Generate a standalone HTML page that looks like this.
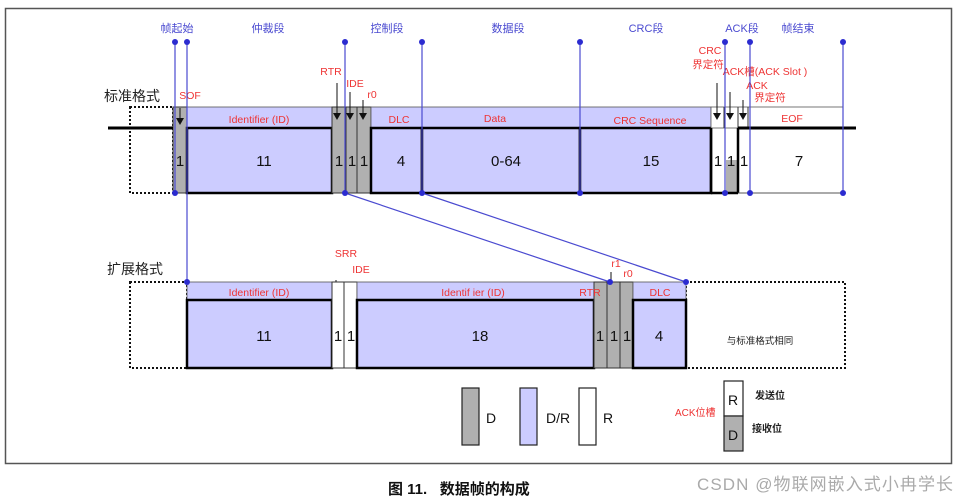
<!DOCTYPE html>
<html><head><meta charset="utf-8"><style>
html,body{margin:0;padding:0;background:#fff}
svg{display:block}
text{font-family:"Liberation Sans","Noto Sans CJK SC",sans-serif}
</style></head><body>
<svg width="962" height="501" viewBox="0 0 962 501" xmlns="http://www.w3.org/2000/svg">
<rect x="5.5" y="8.5" width="946" height="455" fill="none" stroke="#555" stroke-width="1.5"/>
<g fill="#4a4ad0" font-size="11" text-anchor="middle">
<text x="177" y="32">帧起始</text><text x="268" y="32">仲裁段</text><text x="387" y="32">控制段</text>
<text x="508" y="32">数据段</text><text x="646" y="32">CRC段</text><text x="742" y="32">ACK段</text><text x="798" y="32">帧结束</text>
</g>
<text x="104" y="101" font-size="14" fill="#222">标准格式</text>
<rect x="130" y="107" width="43" height="86" fill="none" stroke="#111" stroke-width="2" stroke-dasharray="2,2"/>
<rect x="173" y="107" width="14" height="86" fill="#b0b0b0" stroke="#333"/>
<rect x="187" y="107" width="145" height="21" fill="#ccccff" stroke="#555" stroke-width="0.8"/>
<rect x="187" y="128" width="145" height="65" fill="#ccccff" stroke="#000" stroke-width="2.5"/>
<rect x="332" y="107" width="39" height="86" fill="#b0b0b0" stroke="#333"/>
<line x1="346" y1="107" x2="346" y2="193" stroke="#333"/><line x1="357" y1="107" x2="357" y2="193" stroke="#333"/>
<rect x="371" y="107" width="209" height="21" fill="#ccccff" stroke="#555" stroke-width="0.8"/>
<rect x="371" y="128" width="51" height="65" fill="#ccccff" stroke="#000" stroke-width="2.5"/>
<rect x="422" y="128" width="158" height="65" fill="#ccccff" stroke="#000" stroke-width="2.5"/>
<rect x="580" y="107" width="131" height="21" fill="#ccccff" stroke="#555" stroke-width="0.8"/>
<rect x="580" y="128" width="131" height="65" fill="#ccccff" stroke="#000" stroke-width="2.5"/>
<rect x="711" y="107" width="132" height="21" fill="#fff" stroke="#555" stroke-width="0.8"/>
<line x1="724" y1="107" x2="724" y2="128" stroke="#333"/><line x1="738" y1="107" x2="738" y2="128" stroke="#333"/><line x1="748" y1="107" x2="748" y2="128" stroke="#333"/>
<rect x="726" y="160" width="12" height="33" fill="#b0b0b0"/>
<line x1="711" y1="128" x2="711" y2="193" stroke="#000" stroke-width="2.5"/>
<line x1="738" y1="128" x2="738" y2="193" stroke="#000" stroke-width="2.5"/>
<line x1="711" y1="193" x2="738" y2="193" stroke="#000" stroke-width="2.5"/>
<line x1="738" y1="193" x2="843" y2="193" stroke="#555"/>
<line x1="108" y1="128" x2="173" y2="128" stroke="#000" stroke-width="3"/>
<line x1="738" y1="128" x2="856" y2="128" stroke="#000" stroke-width="3"/>
<g font-size="10.5" fill="#e33" text-anchor="middle">
<text x="190" y="99">SOF</text><text x="259" y="123">Identifier (ID)</text><text x="331" y="75">RTR</text>
<text x="355" y="87">IDE</text><text x="372" y="98">r0</text><text x="399" y="123">DLC</text><text x="495" y="122">Data</text>
<text x="650" y="124">CRC Sequence</text><text x="792" y="122">EOF</text>
<text x="710" y="54">CRC</text><text x="708" y="68">界定符</text>
<text x="765" y="75">ACK槽(ACK Slot )</text><text x="757" y="89">ACK</text><text x="770" y="101">界定符</text>
</g>
<g font-size="15" fill="#111" text-anchor="middle">
<text x="180" y="166">1</text><text x="264" y="166">11</text><text x="339" y="166">1</text><text x="352" y="166">1</text><text x="364" y="166">1</text>
<text x="401" y="166">4</text><text x="506" y="166">0-64</text><text x="651" y="166">15</text>
<text x="718" y="166">1</text><text x="731" y="166">1</text><text x="744" y="166">1</text><text x="799" y="166">7</text>
</g>
<g stroke="#111" stroke-width="1">
<line x1="180" y1="108" x2="180" y2="118"/><line x1="337" y1="83" x2="337" y2="113"/><line x1="350" y1="92" x2="350" y2="113"/><line x1="363" y1="100" x2="363" y2="113"/>
<line x1="717" y1="83" x2="717" y2="113"/><line x1="730" y1="92" x2="730" y2="113"/><line x1="743" y1="100" x2="743" y2="113"/>
<line x1="336" y1="280" x2="336" y2="293"/><line x1="349" y1="288" x2="349" y2="293"/>
<line x1="611" y1="272" x2="611" y2="293"/><line x1="623" y1="282" x2="623" y2="293"/>
</g>
<g fill="#111">
<polygon points="176,118 184,118 180,125"/><polygon points="333,113 341,113 337,120"/><polygon points="346,113 354,113 350,120"/><polygon points="359,113 367,113 363,120"/>
<polygon points="713,113 721,113 717,120"/><polygon points="726,113 734,113 730,120"/><polygon points="739,113 747,113 743,120"/>
<polygon points="332,293 340,293 336,300"/><polygon points="345,293 353,293 349,300"/>
<polygon points="607,293 615,293 611,300"/><polygon points="619,293 627,293 623,300"/>
</g>
<text x="107" y="274" font-size="14" fill="#222">扩展格式</text>
<rect x="130" y="282" width="57" height="86" fill="none" stroke="#111" stroke-width="2" stroke-dasharray="2,2"/>
<rect x="686" y="282" width="159" height="86" fill="none" stroke="#111" stroke-width="2" stroke-dasharray="2,2"/>
<rect x="187" y="282" width="145" height="18" fill="#ccccff" stroke="#555" stroke-width="0.8"/>
<rect x="187" y="300" width="145" height="68" fill="#ccccff" stroke="#000" stroke-width="2.5"/>
<rect x="332" y="282" width="25" height="86" fill="#fff" stroke="#333"/>
<line x1="344" y1="282" x2="344" y2="368" stroke="#333"/>
<rect x="357" y="282" width="237" height="18" fill="#ccccff" stroke="#555" stroke-width="0.8"/>
<rect x="357" y="300" width="237" height="68" fill="#ccccff" stroke="#000" stroke-width="2.5"/>
<rect x="594" y="282" width="39" height="86" fill="#b0b0b0" stroke="#333"/>
<line x1="607" y1="282" x2="607" y2="368" stroke="#333"/><line x1="620" y1="282" x2="620" y2="368" stroke="#333"/>
<rect x="633" y="282" width="53" height="18" fill="#ccccff" stroke="#555" stroke-width="0.8"/>
<rect x="633" y="300" width="53" height="68" fill="#ccccff" stroke="#000" stroke-width="2.5"/>
<g font-size="10.5" fill="#e33" text-anchor="middle">
<text x="259" y="296">Identifier (ID)</text><text x="346" y="257">SRR</text><text x="361" y="273">IDE</text>
<text x="473" y="296">Identif ier (ID)</text><text x="590" y="296">RTR</text><text x="616" y="267">r1</text><text x="628" y="277">r0</text><text x="660" y="296">DLC</text>
</g>
<g font-size="15" fill="#111" text-anchor="middle">
<text x="264" y="341">11</text><text x="338" y="341">1</text><text x="351" y="341">1</text><text x="480" y="341">18</text>
<text x="600" y="341">1</text><text x="614" y="341">1</text><text x="627" y="341">1</text><text x="659" y="341">4</text>
</g>
<text x="760" y="344" font-size="9.5" fill="#222" text-anchor="middle">与标准格式相同</text>
<g stroke="#4a4ad0" stroke-width="1.2">
<line x1="175" y1="42" x2="175" y2="193"/><line x1="187" y1="42" x2="187" y2="282"/>
<line x1="345" y1="42" x2="345" y2="193"/><line x1="422" y1="42" x2="422" y2="193"/>
<line x1="580" y1="42" x2="580" y2="193"/><line x1="725" y1="42" x2="725" y2="193"/>
<line x1="750" y1="42" x2="750" y2="193"/><line x1="843" y1="42" x2="843" y2="193"/>
<line x1="345" y1="193" x2="610" y2="282"/><line x1="422" y1="193" x2="686" y2="282"/>
</g>
<g fill="#2b2bd0">
<circle cx="175" cy="42" r="3"/><circle cx="187" cy="42" r="3"/><circle cx="345" cy="42" r="3"/><circle cx="422" cy="42" r="3"/>
<circle cx="580" cy="42" r="3"/><circle cx="725" cy="42" r="3"/><circle cx="750" cy="42" r="3"/><circle cx="843" cy="42" r="3"/>
<circle cx="175" cy="193" r="3"/><circle cx="345" cy="193" r="3"/><circle cx="422" cy="193" r="3"/><circle cx="580" cy="193" r="3"/>
<circle cx="725" cy="193" r="3"/><circle cx="750" cy="193" r="3"/><circle cx="843" cy="193" r="3"/>
<circle cx="187" cy="282" r="3"/><circle cx="610" cy="282" r="3"/><circle cx="686" cy="282" r="3"/>
</g>
<rect x="462" y="388" width="17" height="57" fill="#b0b0b0" stroke="#222" stroke-width="1.2"/>
<rect x="520" y="388" width="17" height="57" fill="#ccccff" stroke="#222" stroke-width="1.2"/>
<rect x="579" y="388" width="17" height="57" fill="#fff" stroke="#222" stroke-width="1.2"/>
<g font-size="14" fill="#111"><text x="486" y="423">D</text><text x="546" y="423">D/R</text><text x="603" y="423">R</text></g>
<rect x="724" y="381" width="19" height="35" fill="#fff" stroke="#222" stroke-width="1.2"/>
<rect x="724" y="416" width="19" height="35" fill="#b0b0b0" stroke="#222" stroke-width="1.2"/>
<g font-size="14" fill="#111" text-anchor="middle"><text x="733" y="405">R</text><text x="733" y="440">D</text></g>
<text x="675" y="416" font-size="10" fill="#e33">ACK位槽</text>
<text x="755" y="399" font-size="10" fill="#222" font-weight="bold">发送位</text>
<text x="752" y="432" font-size="10" fill="#222" font-weight="bold">接收位</text>
<text x="388" y="494" font-size="15" fill="#111" font-weight="bold" xml:space="preserve">图 11.   数据帧的构成</text>
<text x="697" y="490" font-size="17" fill="#aaa" textLength="256">CSDN @物联网嵌入式小冉学长</text>
</svg>
</body></html>
